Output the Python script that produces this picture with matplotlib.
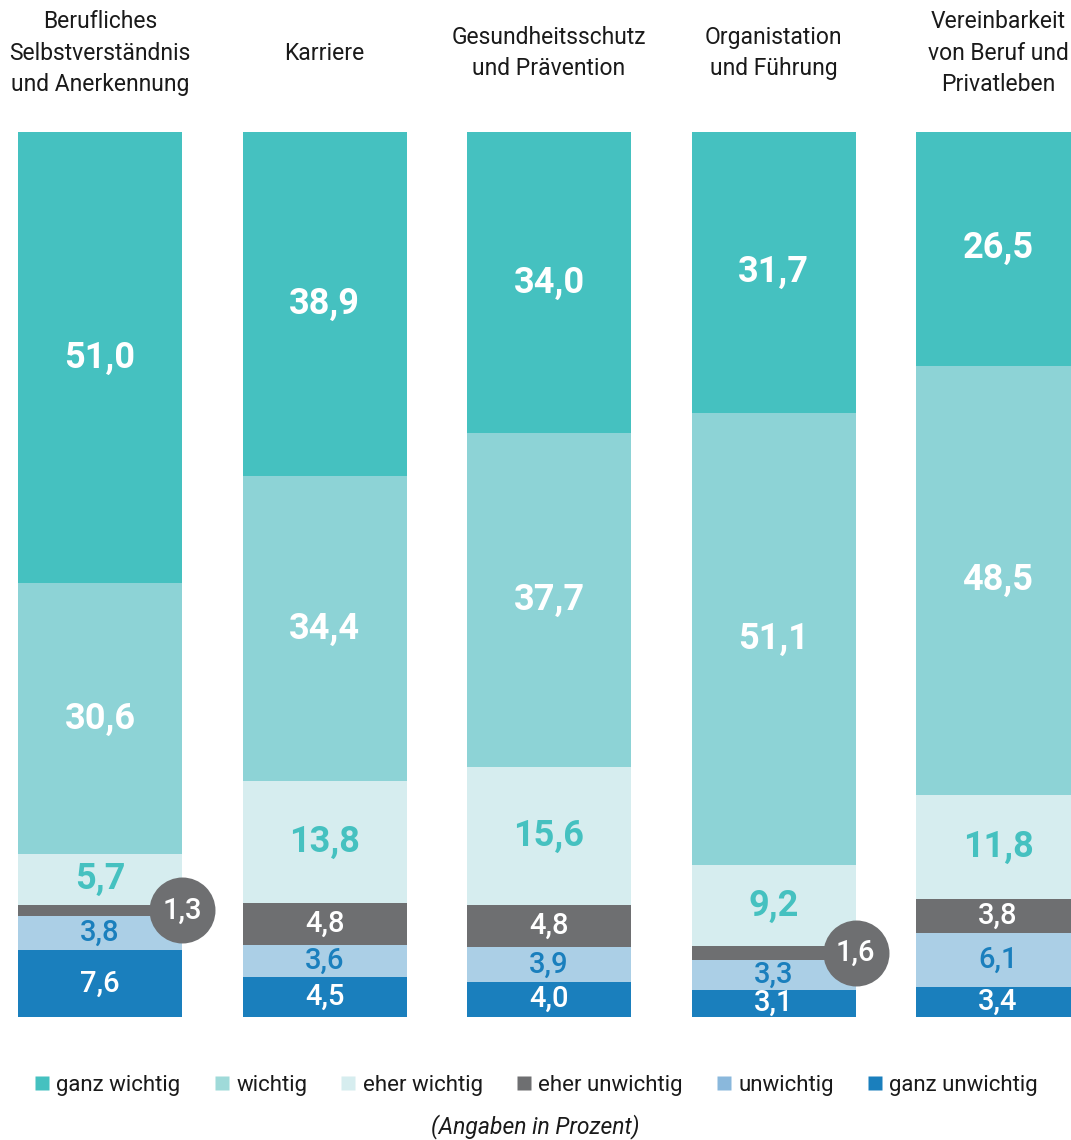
import matplotlib
matplotlib.use("Agg")
import matplotlib.pyplot as plt
from matplotlib.lines import Line2D
from matplotlib import font_manager as fm

categories = ["Berufliches\nSelbstverständnis\nund Anerkennung", "Karriere",
              "Gesundheitsschutz\nund Prävention", "Organistation\nund Führung",
              "Vereinbarkeit\nvon Beruf und\nPrivatleben"]
series_names = ["ganz unwichtig", "unwichtig", "eher unwichtig", "eher wichtig", "wichtig", "ganz wichtig"]
ganz_unwichtig = [7.6, 4.5, 4.0, 3.1, 3.4]
unwichtig = [3.8, 3.6, 3.9, 3.3, 6.1]
eher_unwichtig = [1.3, 4.8, 4.8, 1.6, 3.8]
eher_wichtig = [5.7, 13.8, 15.6, 9.2, 11.8]
wichtig = [30.6, 34.4, 37.7, 51.1, 48.5]
ganz_wichtig = [51.0, 38.9, 34.0, 31.7, 26.5]

series = [ganz_unwichtig, unwichtig, eher_unwichtig, eher_wichtig, wichtig, ganz_wichtig]
colors = ["#1a7fbd", "#abcfe6", "#6e6f71", "#d6edef", "#8dd3d6", "#45c1c0"]
legend_colors = ["#45c1c0", "#9fdad9", "#d6edef", "#6e6f71", "#8ab8dc", "#1a7fbd"]
label_colors = ["white", "#1a7fbd", "white", "#45c1c0", "white", "white"]
label_bold = [False, False, False, True, True, True]

names = {f.name for f in fm.fontManager.ttflist}
fam = ["Liberation Sans Narrow", "DejaVu Sans"] if "Liberation Sans Narrow" in names else ["Roboto", "DejaVu Sans"]
plt.rcParams["font.family"] = fam

W, H = 1071, 1140
fig = plt.figure(figsize=(W / 100, H / 100), dpi=100)
ax = fig.add_axes([0, 123 / H, 1, 885 / H])
step = 224.5
x0 = -100 / step
ax.set_xlim(x0, x0 + W / step)
ax.set_ylim(0, 100)
ax.axis("off")
bw = 164 / step
xs = list(range(len(categories)))

for i in xs:
    bottom = 0
    for k, s in enumerate(series):
        v = s[i]
        ax.bar(i, v, bottom=bottom, width=bw, color=colors[k], edgecolor="none")
        lab = f"{v:.1f}".replace(".", ",")
        if v < 2:
            ax.plot([i + bw / 2], [bottom + v / 2], marker="o", markersize=47.5,
                    color="#6e6f71", markeredgecolor="none", zorder=5)
            ax.text(i + bw / 2, bottom + v / 2, lab, ha="center", va="center",
                    color="white", fontsize=21, fontweight="medium", zorder=6)
        else:
            ax.text(i, bottom + v / 2, lab, ha="center", va="center",
                    color=label_colors[k], fontsize=26 if label_bold[k] else 21,
                    fontweight="bold" if label_bold[k] else "medium")
        bottom += v

for i, c in enumerate(categories):
    fig.text((100 + step * i) / W, 1 - 53 / H, c, ha="center", va="center",
             fontsize=16.5, linespacing=1.45, color="#1a1a1a")

handles = [Line2D([], [], marker="s", linestyle="none", markersize=10,
                  color=legend_colors[j], markeredgecolor="none") for j in range(6)]
fig.legend(handles, series_names[::-1], loc="center", bbox_to_anchor=(0.5, 1 - 1085 / H),
           ncol=6, frameon=False, fontsize=16, handletextpad=0.25, columnspacing=1.45,
           handlelength=0.8, labelcolor="#1a1a1a")
fig.text(0.5, 1 - 1127 / H, "(Angaben in Prozent)", ha="center", va="center",
         fontsize=16.5, style="italic", color="#1a1a1a")

fig.savefig("out.png", dpi=100)
